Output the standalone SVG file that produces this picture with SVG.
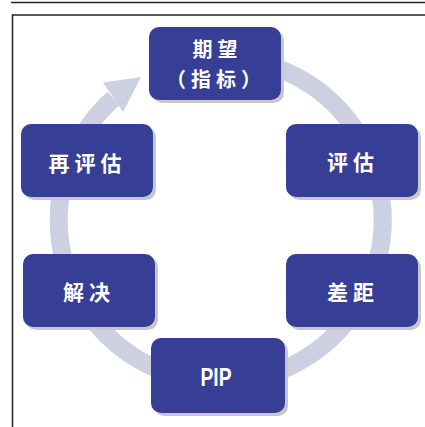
<svg xmlns="http://www.w3.org/2000/svg" width="425" height="427" viewBox="0 0 425 427">
<style>
.box{fill:#373e96}
.sh{fill:#c8c8cc}
.t{fill:#ffffff;font-family:"Noto Sans CJK SC","Noto Sans",sans-serif;font-weight:700;font-size:21px;letter-spacing:5px;text-anchor:middle;dominant-baseline:central}
.t2{font-size:20px}
.pip{fill:#ffffff;font-family:"Liberation Sans",Arial,sans-serif;font-weight:700;font-size:25px;text-anchor:middle}
.ring{fill:none;stroke:#cdd0e1;stroke-width:18}
</style>
<rect width="425" height="427" fill="#ffffff"/>
<g id="frame" fill="none" stroke="#222222">
<line x1="11" y1="2.5" x2="425" y2="2.5" stroke-width="1.5"/>
<polyline points="425,15 12.5,15 12.5,427" stroke-width="1.5"/>
</g>
<g id="connectors">
<path class="ring" d="M216 58 A162 162 0 1 1 113.5 98.5"/>
<polygon points="103,82.5 141,77 123,112" fill="#cdd0e1"/>
</g>
<g id="n-qiwang">
<rect class="sh" x="152" y="30" width="132" height="73" rx="10"/>
<rect class="box" x="149" y="27" width="132" height="73" rx="10"/>
<text class="t t2" x="217.5" y="48.5">期望</text>
<text class="t t2" x="216" y="78">（指标）</text>
</g>
<g id="n-pinggu">
<rect class="sh" x="289" y="127" width="132" height="73" rx="10"/>
<rect class="box" x="286" y="124" width="132" height="73" rx="10"/>
<text class="t" x="353" y="161">评估</text>
</g>
<g id="n-chaju">
<rect class="sh" x="289" y="257" width="132" height="73" rx="10"/>
<rect class="box" x="286" y="254" width="132" height="73" rx="10"/>
<text class="t" x="353" y="291">差距</text>
</g>
<g id="n-pip">
<rect class="sh" x="154" y="341" width="134" height="75" rx="10"/>
<rect class="box" x="151" y="338" width="134" height="75" rx="10"/>
<text class="pip" x="216" y="386" textLength="31" lengthAdjust="spacingAndGlyphs">PIP</text>
</g>
<g id="n-jiejue">
<rect class="sh" x="26" y="257" width="132" height="73" rx="10"/>
<rect class="box" x="23" y="254" width="132" height="73" rx="10"/>
<text class="t" x="89" y="291">解决</text>
</g>
<g id="n-zaipinggu">
<rect class="sh" x="24" y="127" width="132" height="73" rx="10"/>
<rect class="box" x="21" y="124" width="132" height="73" rx="10"/>
<text class="t" x="87.5" y="162">再评估</text>
</g>
</svg>
